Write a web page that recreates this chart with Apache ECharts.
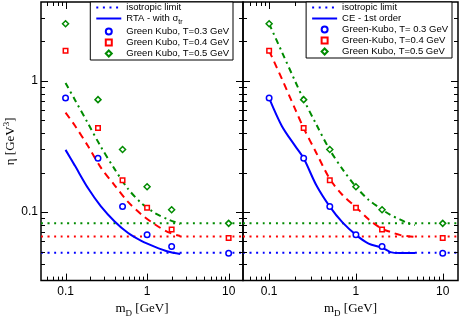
<!DOCTYPE html>
<html>
<head>
<meta charset="utf-8">
<script src="https://cdn.jsdelivr.net/npm/echarts@6/dist/echarts.min.js"></script>
<style>
  html, body { margin: 0; padding: 0; background: #fff; }
  #chart { width: 460px; height: 323px; }
</style>
</head>
<body>
<div id="chart"></div>
<script>
// axis ranges and ticks
const xRange = [0.05, 15];
const yRange = [0.03, 4];
const xMajor = [0.1, 1, 10];
const xMinor = [0.06, 0.07, 0.08, 0.09, 0.2, 0.3, 0.4, 0.5, 0.6, 0.7, 0.8, 0.9, 2, 3, 4, 5, 6, 7, 8, 9];
const yMajor = [0.1, 1];
const yMinor = [0.04, 0.05, 0.06, 0.07, 0.08, 0.09, 0.2, 0.3, 0.4, 0.5, 0.6, 0.7, 0.8, 0.9, 2, 3];

// Green-Kubo points (both panels)
const gkX = [0.1, 0.25, 0.5, 1, 2, 10];
const gk03 = [0.74, 0.257, 0.11, 0.067, 0.0545, 0.0486];
const gk04 = [1.70, 0.437, 0.175, 0.108, 0.0735, 0.0635];
const gk05 = [2.73, 0.72, 0.30, 0.156, 0.104, 0.082];

// isotropic limits
const isoX = [0.05, 15];
const iso03 = 0.049;
const iso04 = 0.065;
const iso05 = 0.082;

// left panel: RTA with sigma_tr
const rtaX = [0.1, 0.13, 0.19, 0.27, 0.4, 0.58, 0.85, 1.23, 1.8, 2.55];
const rta03 = [0.298, 0.226, 0.151, 0.111, 0.0848, 0.0695, 0.0603, 0.0545, 0.050, 0.0478];
const rta04 = [0.573, 0.457, 0.316, 0.219, 0.160, 0.120, 0.096, 0.081, 0.0703, 0.0656];
const rta05 = [0.966, 0.72, 0.47, 0.316, 0.2125, 0.151, 0.117, 0.0988, 0.088, 0.081];

// right panel: CE 1st order
const ceX = [0.1, 0.14, 0.2, 0.25, 0.35, 0.5, 0.7, 1, 1.4, 2, 2.5, 3.2, 4, 4.8];
const ce03 = [0.74, 0.454, 0.318, 0.257, 0.16, 0.11, 0.0834, 0.067, 0.0575, 0.0535, 0.0495, 0.0487, 0.0488, 0.0488];
const ce04 = [1.70, 1.04, 0.607, 0.437, 0.282, 0.179, 0.135, 0.109, 0.088, 0.0744, 0.0705, 0.067, 0.0653, 0.0646];
const ce05 = [2.73, 1.67, 0.99, 0.72, 0.465, 0.298, 0.2125, 0.156, 0.124, 0.1045, 0.095, 0.088, 0.082, 0.0796];

const BLUE = '#0000ff', RED = '#ff0000', GREEN = '#008b00';
const SANS = 'Liberation Sans, Arial, sans-serif';
const SERIF = 'Liberation Serif, Times New Roman, serif';

const zip = (xs, ys) => xs.map((x, i) => [x, ys[i]]);
const fmt = v => (v < 1 ? v.toFixed(1) : String(Math.round(v)));

const chart = echarts.init(document.getElementById('chart'));

const xName = {
  name: '{a|m}{s|D}{a| [GeV]}',
  nameLocation: 'middle',
  nameGap: 16,
  nameTextStyle: {
    rich: {
      a: { fontFamily: SERIF, fontSize: 13, lineHeight: 18, color: '#000' },
      s: { fontFamily: SERIF, fontSize: 9, lineHeight: 9, verticalAlign: 'bottom', color: '#000' }
    }
  }
};

const yName = {
  name: '{a|η [GeV}{s|3}{a|]}',
  nameLocation: 'middle',
  nameGap: 20,
  nameRotate: 90,
  nameTextStyle: {
    rich: {
      a: { fontFamily: SERIF, fontSize: 13, lineHeight: 18, color: '#000' },
      s: { fontFamily: SERIF, fontSize: 9, lineHeight: 9, verticalAlign: 'top', color: '#000' }
    }
  }
};

function logAxis(dim, g, showLabels) {
  const isX = dim === 'x';
  const ax = {
    type: 'log',
    gridIndex: g,
    min: isX ? xRange[0] : yRange[0],
    max: isX ? xRange[1] : yRange[1],
    axisLine: { show: false },
    axisTick: { show: false },
    splitLine: { show: false },
    axisPointer: { show: false },
    axisLabel: {
      show: showLabels, customValues: isX ? xMajor : yMajor, formatter: fmt,
      margin: isX ? 5 : 3, fontFamily: SANS, fontSize: 12, color: '#000'
    },
    silent: true
  };
  return showLabels ? Object.assign(ax, isX ? xName : yName) : ax;
}

// tick marks on all four sides, placed through the axis scales
function tickData() {
  const d = [];
  xMajor.forEach(v => d.push([v, 0, 1]));
  xMinor.forEach(v => d.push([v, 0, 0]));
  yMajor.forEach(v => d.push([v, 1, 1]));
  yMinor.forEach(v => d.push([v, 1, 0]));
  return d;
}

function tickSeries(g) {
  return {
    type: 'custom', xAxisIndex: g, yAxisIndex: g, silent: true, z: 5,
    data: tickData(),
    encode: { x: 0, y: 0 },
    renderItem: function (params, api) {
      const v = api.value(0), isY = api.value(1), len = api.value(2) ? 7 : 4;
      const cs = params.coordSys;
      const st = { stroke: '#000', lineWidth: 1 };
      if (!isY) {
        const px = Math.round(api.coord([v, yRange[0]])[0]) + 0.5;
        const b = cs.y + cs.height;
        return { type: 'group', children: [
          { type: 'line', shape: { x1: px, y1: b, x2: px, y2: b - len }, style: st },
          { type: 'line', shape: { x1: px, y1: cs.y, x2: px, y2: cs.y + len }, style: st }
        ] };
      }
      const py = Math.round(api.coord([xRange[0], v])[1]) + 0.5;
      const r = cs.x + cs.width;
      return { type: 'group', children: [
        { type: 'line', shape: { x1: cs.x, y1: py, x2: cs.x + len, y2: py }, style: st },
        { type: 'line', shape: { x1: r, y1: py, x2: r - len, y2: py }, style: st }
      ] };
    }
  };
}

function lineSeries(name, g, data, color, type) {
  return {
    name: name, type: 'line', xAxisIndex: g, yAxisIndex: g,
    data: data, symbol: 'none', smooth: 0.3,
    lineStyle: { color: color, width: 2, type: type },
    itemStyle: { color: color },
    silent: true
  };
}

function isoSeries(name, g, value, color) {
  return lineSeries(name, g, isoX.map(x => [x, value]), color, [2, 4.6]);
}

function gkSeries(name, g, ys, color, symbol, size) {
  return {
    name: name, type: 'scatter', xAxisIndex: g, yAxisIndex: g,
    data: zip(gkX, ys), symbol: symbol, symbolSize: size,
    itemStyle: { color: '#fff', borderColor: color, borderWidth: 1.5, opacity: 1 },
    silent: true, z: 3
  };
}

const series = [
  tickSeries(0),
  tickSeries(1),
  // left panel
  isoSeries('isotropic limit', 0, iso03, BLUE),
  isoSeries('iso-0.4-l', 0, iso04, RED),
  isoSeries('iso-0.5-l', 0, iso05, GREEN),
  lineSeries('RTA - with σtr', 0, zip(rtaX, rta03), BLUE, 'solid'),
  lineSeries('rta-0.4', 0, zip(rtaX, rta04), RED, [7, 5]),
  lineSeries('rta-0.5', 0, zip(rtaX, rta05), GREEN, [6, 4, 2, 4]),
  gkSeries('Green Kubo, T=0.3 GeV', 0, gk03, BLUE, 'circle', 5.5),
  gkSeries('Green Kubo, T=0.4 GeV', 0, gk04, RED, 'rect', 4.5),
  gkSeries('Green Kubo, T=0.5 GeV', 0, gk05, GREEN, 'diamond', 6),
  // right panel
  isoSeries('isotropic limit', 1, iso03, BLUE),
  isoSeries('iso-0.4-r', 1, iso04, RED),
  isoSeries('iso-0.5-r', 1, iso05, GREEN),
  lineSeries('CE - 1st order', 1, zip(ceX, ce03), BLUE, 'solid'),
  lineSeries('ce-0.4', 1, zip(ceX, ce04), RED, [7, 5]),
  lineSeries('ce-0.5', 1, zip(ceX, ce05), GREEN, [6, 4, 2, 4]),
  gkSeries('Green-Kubo, T= 0.3 GeV', 1, gk03, BLUE, 'circle', 5.5),
  gkSeries('Green-Kubo, T=0.4 GeV', 1, gk04, RED, 'rect', 4.5),
  gkSeries('Green Kubo, T=0.5 GeV', 1, gk05, GREEN, 'diamond', 6)
];

const hideSym = { opacity: 0, borderWidth: 0 };
const ICON_RECT = 'path://M0,0H10V10H0Z';
const ICON_DIAM = 'path://M5,0L10,5L5,10L0,5Z';

const legendBase = {
  orient: 'vertical',
  top: 2,
  z: 10,
  padding: [0.5, 4, 1.5, 5],
  itemWidth: 25,
  itemHeight: 6,
  itemGap: 1,
  symbolKeepAspect: true,
  borderColor: '#000',
  borderWidth: 1,
  backgroundColor: '#fff',
  selectedMode: false,
  formatter: name => name.indexOf('RTA') === 0 ? '{t|RTA - with σ}{s|tr}' : '{n|' + name + '}',
  textStyle: {
    fontFamily: SANS, fontSize: 9.5, color: '#000',
    rich: {
      n: { fontFamily: SANS, fontSize: 9.5, lineHeight: 11, color: '#000' },
      t: { fontFamily: SANS, fontSize: 9.5, lineHeight: 14, color: '#000' },
      s: { fontFamily: SANS, fontSize: 7, lineHeight: 7, verticalAlign: 'bottom', color: '#000' }
    }
  }
};

chart.setOption({
  animation: false,
  backgroundColor: '#fff',
  grid: [
    { left: 41, top: 2, width: 202, height: 288, show: true, borderColor: '#000', borderWidth: 1.5, backgroundColor: 'transparent' },
    { left: 243, top: 2, width: 215, height: 288, show: true, borderColor: '#000', borderWidth: 1.5, backgroundColor: 'transparent' }
  ],
  xAxis: [logAxis('x', 0, true), logAxis('x', 1, true)],
  yAxis: [logAxis('y', 0, true), logAxis('y', 1, false)],
  legend: [
    Object.assign({}, legendBase, {
      right: 227,
      data: [
        { name: 'isotropic limit', itemStyle: hideSym },
        { name: 'RTA - with σtr', itemStyle: hideSym },
        { name: 'Green Kubo, T=0.3 GeV', icon: 'circle' },
        { name: 'Green Kubo, T=0.4 GeV', icon: ICON_RECT },
        { name: 'Green Kubo, T=0.5 GeV', icon: ICON_DIAM }
      ]
    }),
    Object.assign({}, legendBase, {
      right: 8,
      data: [
        { name: 'isotropic limit', itemStyle: hideSym },
        { name: 'CE - 1st order', itemStyle: hideSym },
        { name: 'Green-Kubo, T= 0.3 GeV', icon: 'circle' },
        { name: 'Green-Kubo, T=0.4 GeV', icon: ICON_RECT },
        { name: 'Green Kubo, T=0.5 GeV', icon: ICON_DIAM }
      ]
    })
  ],
  series: series
});
</script>
</body>
</html>
